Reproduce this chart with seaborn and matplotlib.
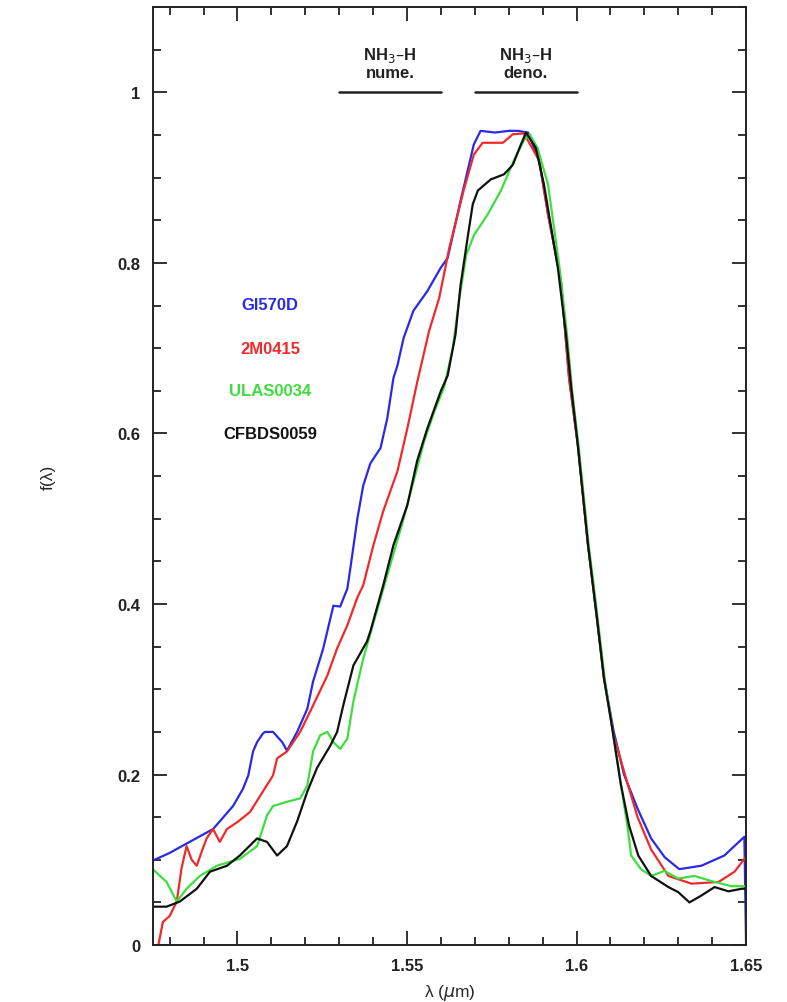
import numpy as np
import pandas as pd
import matplotlib
matplotlib.use("Agg")
import matplotlib.pyplot as plt
import seaborn as sns
from matplotlib.ticker import MultipleLocator

# ---------------- data ----------------
names = ["Gl570D", "2M0415", "ULAS0034", "CFBDS0059"]
colors = ["#2a2ae6", "#f02a2a", "#3ede3e", "#111111"]

gl_x = [1.475, 1.480, 1.485, 1.4928, 1.4987, 1.5016, 1.5032, 1.5046, 1.5058, 1.5075,
        1.5081, 1.5105, 1.5132, 1.5146, 1.5176, 1.5206, 1.5223, 1.5253, 1.5265, 1.5283,
        1.5303, 1.5324, 1.5333, 1.5354, 1.5371, 1.5392, 1.5422, 1.5442, 1.546, 1.5472,
        1.549, 1.5519, 1.556, 1.5599, 1.562, 1.5658, 1.5697, 1.5717, 1.5760, 1.5800,
        1.5827, 1.5857, 1.5890, 1.5916, 1.5954, 1.5978, 1.6004, 1.6034, 1.6058, 1.6081,
        1.6110, 1.6140, 1.6180, 1.6220, 1.6260, 1.6303, 1.6368, 1.6436, 1.6495, 1.6500]
gl_y = [0.099, 0.108, 0.119, 0.136, 0.163, 0.183, 0.199, 0.227, 0.238, 0.248,
        0.250, 0.250, 0.238, 0.228, 0.250, 0.277, 0.309, 0.348, 0.368, 0.398,
        0.397, 0.418, 0.442, 0.501, 0.539, 0.565, 0.583, 0.618, 0.665, 0.680,
        0.712, 0.744, 0.767, 0.794, 0.806, 0.873, 0.939, 0.955, 0.953, 0.955,
        0.955, 0.953, 0.920, 0.857, 0.779, 0.665, 0.586, 0.469, 0.391, 0.313,
        0.250, 0.200, 0.160, 0.125, 0.103, 0.089, 0.093, 0.105, 0.127, 0.000]

m2_x = [1.4762, 1.478, 1.480, 1.4821, 1.4835, 1.485, 1.4865, 1.488, 1.4895, 1.4909,
        1.4928, 1.4948, 1.4969, 1.4999, 1.5037, 1.5067, 1.5105, 1.5117, 1.5146, 1.5185,
        1.5223, 1.5265, 1.5294, 1.5324, 1.5354, 1.5371, 1.5401, 1.543, 1.5472, 1.5501,
        1.553, 1.5565, 1.5595, 1.5625, 1.5667, 1.5697, 1.5723, 1.5783, 1.5812, 1.5845,
        1.5890, 1.5916, 1.5954, 1.5978, 1.6004, 1.6034, 1.6058, 1.6081, 1.6110, 1.6150,
        1.6180, 1.6220, 1.6271, 1.6339, 1.6419, 1.6466, 1.6495, 1.6500]
m2_y = [-0.010, 0.027, 0.034, 0.051, 0.090, 0.116, 0.100, 0.093, 0.110, 0.125,
        0.136, 0.121, 0.136, 0.144, 0.156, 0.175, 0.199, 0.219, 0.227, 0.250,
        0.281, 0.316, 0.348, 0.375, 0.408, 0.422, 0.469, 0.509, 0.556, 0.606,
        0.660, 0.720, 0.759, 0.818, 0.885, 0.927, 0.941, 0.941, 0.951, 0.952,
        0.920, 0.857, 0.779, 0.665, 0.586, 0.469, 0.391, 0.313, 0.245, 0.190,
        0.150, 0.112, 0.081, 0.072, 0.074, 0.086, 0.101, 0.105]

ul_x = [1.475, 1.4791, 1.4821, 1.485, 1.4889, 1.4939, 1.5007, 1.5058, 1.5087, 1.5105,
        1.5146, 1.5185, 1.5206, 1.5223, 1.5244, 1.5265, 1.5283, 1.5303, 1.5324, 1.5342,
        1.5371, 1.541, 1.545, 1.549, 1.552, 1.555, 1.558, 1.561, 1.5635, 1.5655,
        1.5675, 1.5698, 1.5738, 1.5777, 1.5815, 1.5845, 1.5862, 1.5885, 1.5916, 1.5950,
        1.5972, 1.5987, 1.6006, 1.6036, 1.6060, 1.6083, 1.6105, 1.6130, 1.6150, 1.6161,
        1.6190, 1.6220, 1.6259, 1.6300, 1.6348, 1.6398, 1.6457, 1.6495, 1.6500]
ul_y = [0.089, 0.074, 0.051, 0.066, 0.081, 0.093, 0.101, 0.116, 0.152, 0.163,
        0.168, 0.172, 0.187, 0.227, 0.246, 0.250, 0.238, 0.230, 0.242, 0.286,
        0.336, 0.390, 0.445, 0.500, 0.545, 0.590, 0.625, 0.655, 0.700, 0.760,
        0.810, 0.833, 0.857, 0.885, 0.920, 0.944, 0.951, 0.935, 0.892, 0.794,
        0.716, 0.650, 0.586, 0.469, 0.391, 0.313, 0.255, 0.190, 0.140, 0.105,
        0.089, 0.081, 0.087, 0.078, 0.081, 0.075, 0.069, 0.069, 0.070]

cf_x = [1.475, 1.4791, 1.483, 1.488, 1.4919, 1.4969, 1.5007, 1.5058, 1.5087, 1.5117,
        1.5146, 1.5176, 1.5206, 1.5235, 1.5274, 1.5294, 1.5312, 1.5342, 1.5382, 1.5392,
        1.543, 1.546, 1.5501, 1.553, 1.556, 1.5600, 1.5620, 1.5643, 1.5658, 1.568,
        1.5694, 1.5709, 1.5747, 1.5786, 1.5812, 1.5836, 1.5851, 1.5880, 1.5904, 1.5945,
        1.5969, 1.5984, 1.6004, 1.6034, 1.6058, 1.6081, 1.6105, 1.6130, 1.6155, 1.6182,
        1.6220, 1.6271, 1.6300, 1.6333, 1.6368, 1.6407, 1.6448, 1.6487, 1.6500]
cf_y = [0.045, 0.045, 0.051, 0.066, 0.086, 0.093, 0.105, 0.125, 0.121, 0.105,
        0.116, 0.145, 0.180, 0.208, 0.234, 0.250, 0.281, 0.328, 0.356, 0.368,
        0.422, 0.469, 0.516, 0.568, 0.606, 0.650, 0.668, 0.716, 0.774, 0.833,
        0.869, 0.885, 0.898, 0.904, 0.915, 0.939, 0.953, 0.935, 0.892, 0.794,
        0.716, 0.655, 0.586, 0.469, 0.391, 0.313, 0.255, 0.190, 0.140, 0.105,
        0.081, 0.068, 0.062, 0.050, 0.058, 0.068, 0.063, 0.066, 0.066]

series_x = [gl_x, m2_x, ul_x, cf_x]
series_y = [gl_y, m2_y, ul_y, cf_y]

band_labels = ["NH$_3$\u2013H\nnume.", "NH$_3$\u2013H\ndeno."]
band_ranges = [(1.53, 1.56), (1.57, 1.60)]

x_ticks = [1.5, 1.55, 1.6, 1.65]
y_ticks = [0, 0.2, 0.4, 0.6, 0.8, 1.0]
y_ticklabels = ["0", "0.2", "0.4", "0.6", "0.8", "1"]

# ---------------- style ----------------
sns.set_style("ticks")
plt.rcParams["font.family"] = ["Liberation Sans", "DejaVu Sans"]

fig = plt.figure(figsize=(7.87, 10.03), dpi=100)
ax = fig.add_axes([0.194, 0.0568, 0.754, 0.935])

for nm, xs, ys, c in zip(names, series_x, series_y, colors):
    df = pd.DataFrame({"x": xs, "y": ys})
    sns.lineplot(data=df, x="x", y="y", ax=ax, color=c, lw=1.6,
                 sort=False, estimator=None, legend=False)

ax.set_xlim(1.475, 1.65)
ax.set_ylim(0, 1.1)
ax.set_xticks(x_ticks)
ax.set_xticklabels([f"{v:g}" for v in x_ticks])
ax.set_yticks(y_ticks)
ax.set_yticklabels(y_ticklabels)
ax.xaxis.set_minor_locator(MultipleLocator(0.01))
ax.yaxis.set_minor_locator(MultipleLocator(0.05))
ax.tick_params(which="both", direction="in", top=True, right=True,
               labelsize=12, width=1.3, color="#222222", pad=9)
ax.tick_params(which="major", length=10)
ax.tick_params(which="minor", length=6)
for lab in ax.get_xticklabels() + ax.get_yticklabels():
    lab.set_fontweight("bold")
    lab.set_color("#222222")
for sp in ax.spines.values():
    sp.set_linewidth(1.4)
    sp.set_color("#222222")

ax.set_xlabel("\u03bb ($\\mu$m)", fontsize=12.5, labelpad=7)
ax.set_ylabel("f(\u03bb)", fontsize=12.5, labelpad=44)

# legend text
leg_y = [0.751, 0.700, 0.651, 0.600]
for nm, c, yy in zip(names, colors, leg_y):
    ax.text(1.5096, yy, nm, color=c, fontsize=12, fontweight="bold",
            ha="center", va="center")

# band annotations
for lab, (a, b) in zip(band_labels, band_ranges):
    ax.plot([a, b], [1.0, 1.0], color="#222222", lw=1.8)
    ax.text((a + b) / 2, 1.035, lab, ha="center", va="center", fontsize=12,
            fontweight="bold", color="#222222", linespacing=1.1)

fig.savefig("out.png", dpi=100, facecolor="white")
